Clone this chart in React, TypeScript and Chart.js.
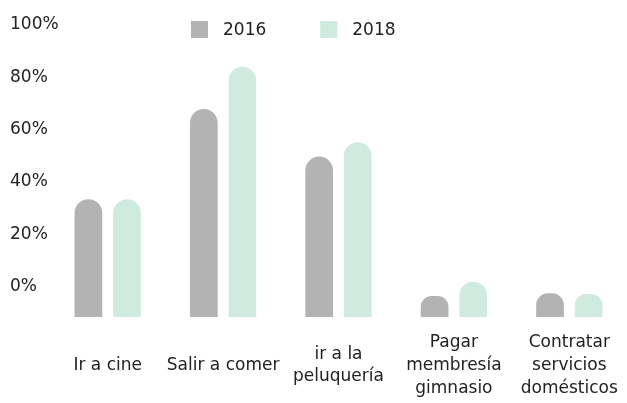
import React, { useEffect, useRef } from 'react';
import { Chart, registerables } from 'chart.js';

Chart.register(...registerables);

const FONT = '"DejaVu Sans", sans-serif';
const TEXT = '#222222';

const categories: (string | string[])[] = [
  'Ir a cine',
  'Salir a comer',
  ['ir a la', 'peluquería'],
  ['Pagar', 'membresía', 'gimnasio'],
  ['Contratar', 'servicios', 'domésticos'],
];
const seriesNames = ['2016', '2018'];
const values2016 = [33.4, 67.9, 49.7, -3.6, -2.5];
const values2018 = [33.4, 84.0, 55.2, 1.9, -2.8];
const seriesColors = ['#b3b3b3', '#cfeadf'];
const yTickValues = [0, 20, 40, 60, 80, 100];
const yMin = -11.6;
const yMax = 100;

const legendPlugin = {
  id: 'customLegend',
  afterDraw(chart: any) {
    const ctx = chart.ctx;
    ctx.save();
    ctx.font = `17px ${FONT}`;
    ctx.textBaseline = 'middle';
    ctx.textAlign = 'left';
    let x = 191;
    const y = 21;
    const box = 17;
    chart.data.datasets.forEach((ds: any) => {
      ctx.fillStyle = ds.backgroundColor;
      ctx.fillRect(x, y, box, box);
      ctx.fillStyle = TEXT;
      ctx.fillText(ds.label, x + box + 15, y + box / 2 + 1.5);
      x += box + 15 + ctx.measureText(ds.label).width + 54;
    });
    ctx.restore();
  },
};

export default function App() {
  const canvasRef = useRef<HTMLCanvasElement | null>(null);

  useEffect(() => {
    if (!canvasRef.current) return;
    const barOpts = {
      base: yMin,
      borderRadius: 14,
      borderSkipped: 'start',
      barPercentage: 0.718,
      categoryPercentage: 0.669,
    };
    const chart = new Chart(canvasRef.current, {
      type: 'bar',
      data: {
        labels: categories,
        datasets: [
          { label: seriesNames[0], data: values2016, backgroundColor: seriesColors[0], ...barOpts } as any,
          { label: seriesNames[1], data: values2018, backgroundColor: seriesColors[1], ...barOpts } as any,
        ],
      },
      options: {
        animation: false,
        responsive: true,
        maintainAspectRatio: false,
        layout: { padding: { left: 10, top: 25, right: 0, bottom: 0 } },
        plugins: {
          legend: { display: false },
          tooltip: { enabled: false },
        },
        scales: {
          x: {
            grid: { display: false, drawTicks: true, tickLength: 26 },
            border: { display: false },
            ticks: {
              color: TEXT,
              font: { family: FONT, size: 17, lineHeight: 1.33 },
              padding: 0,
              maxRotation: 0,
              autoSkip: false,
              crossAlign: 'center',
            },
            afterFit: (scale: any) => {
              scale.height = 86;
            },
          },
          y: {
            min: yMin,
            max: yMax,
            grid: { display: false },
            border: { display: false },
            ticks: {
              color: TEXT,
              font: { family: FONT, size: 17 },
              mirror: true,
              crossAlign: 'near',
              padding: -40,
              callback: (v: any) => `${v}%`,
            },
            afterBuildTicks: (scale: any) => {
              scale.ticks = yTickValues.map((v) => ({ value: v }));
            },
            afterFit: (scale: any) => {
              scale.width = 40;
            },
          },
        },
      },
      plugins: [legendPlugin],
    });
    return () => chart.destroy();
  }, []);

  return (
    <div style={{ position: 'absolute', left: 0, top: 0, width: 627, height: 403 }}>
      <canvas ref={canvasRef} />
    </div>
  );
}
